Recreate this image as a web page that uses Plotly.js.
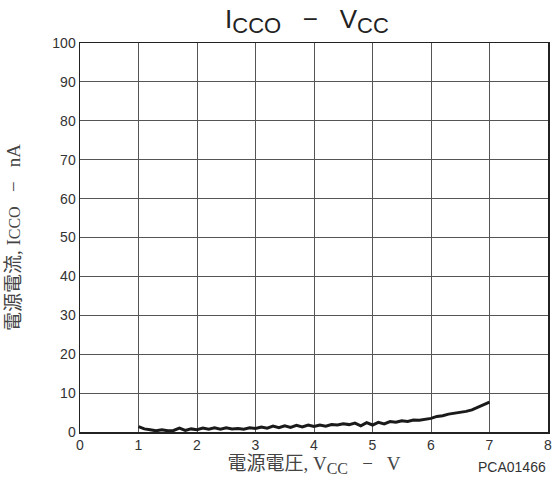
<!DOCTYPE html>
<html>
<head>
<meta charset="utf-8">
<script src="https://cdn.plot.ly/plotly-3.0.1.min.js"></script>
<style>html,body{margin:0;padding:0;background:#fff;}#chart{width:556px;height:477px;}</style>
</head>
<body>
<div id="chart"></div>
<script>
const vcc = [1.0,1.1,1.2,1.3,1.4,1.5,1.6,1.7,1.8,1.9,2.0,2.1,2.2,2.3,2.4,2.5,2.6,2.7,2.8,2.9,3.0,3.1,3.2,3.3,3.4,3.5,3.6,3.7,3.8,3.9,4.0,4.1,4.2,4.3,4.4,4.5,4.6,4.7,4.8,4.9,5.0,5.1,5.2,5.3,5.4,5.5,5.6,5.7,5.8,5.9,6.0,6.1,6.2,6.3,6.4,6.5,6.6,6.7,6.8,6.9,7.0];
const icco = [1.4,0.8,0.6,0.3,0.6,0.3,0.4,1.0,0.4,0.8,0.6,1.0,0.7,1.1,0.7,1.1,0.8,0.9,0.7,1.1,0.9,1.3,1.0,1.5,1.1,1.6,1.2,1.7,1.3,1.8,1.4,1.8,1.5,1.9,1.8,2.1,1.9,2.3,1.6,2.4,1.8,2.5,2.1,2.7,2.5,2.9,2.7,3.1,3.0,3.3,3.5,4.0,4.2,4.6,4.8,5.0,5.3,5.7,6.3,7.0,7.7];
const xTicks = [0,1,2,3,4,5,6,7,8];
const yTicks = [0,10,20,30,40,50,60,70,80,90,100];
const titleText = "I<sub><span style='font-size:22px'>CCO</span></sub>   −   V<sub><span style='font-size:22px'>CC</span></sub>";
const xTitle = "電源電圧, V<sub><span style='font-size:16px'>CC</span></sub>   −   V";
const yTitle = "電源電流, I<span style='font-size:16px'>CCO</span>   −   nA";
const figId = "PCA01466";

const sans = "Liberation Sans, Arial, sans-serif";
const serif = "Liberation Serif, 'Noto Sans CJK JP', serif";

Plotly.newPlot("chart", [{
  x: vcc, y: icco, type: "scatter", mode: "lines",
  line: {color: "#1a1a1a", width: 3}, showlegend: false, hoverinfo: "skip"
}], {
  width: 556, height: 477,
  font: {color: "#333", family: sans},
  margin: {l: 80, r: 8, t: 43, b: 45},
  paper_bgcolor: "#fff", plot_bgcolor: "#fff",
  title: {text: titleText, font: {family: sans, size: 26, color: "#222"}, x: 0.552, xanchor: "center", y: 0.98, yanchor: "top"},
  xaxis: {
    range: [0, 8], tickvals: xTicks, ticktext: xTicks.map(String),
    showgrid: true, gridcolor: "#555", gridwidth: 1,
    showline: true, linecolor: "#222", linewidth: 1.5, mirror: true,
    ticks: "", zeroline: false,
    tickfont: {family: sans, size: 14, color: "#333"},
    title: {text: xTitle, font: {family: serif, size: 19, color: "#444"}, standoff: 5}
  },
  yaxis: {
    range: [0, 100], tickvals: yTicks, ticktext: yTicks.map(String),
    showgrid: true, gridcolor: "#555", gridwidth: 1,
    showline: true, linecolor: "#222", linewidth: 1.5, mirror: true,
    ticks: "", zeroline: false,
    tickfont: {family: sans, size: 14, color: "#333"},
    title: {text: yTitle, font: {family: serif, size: 19, color: "#444"}, standoff: 26}
  },
  annotations: [{
    text: figId, xref: "paper", yref: "paper", x: 1.0, y: -0.09,
    xanchor: "right", yanchor: "middle", showarrow: false,
    font: {family: sans, size: 14, color: "#333"}
  }]
}, {displayModeBar: false, staticPlot: true});
</script>
</body>
</html>
